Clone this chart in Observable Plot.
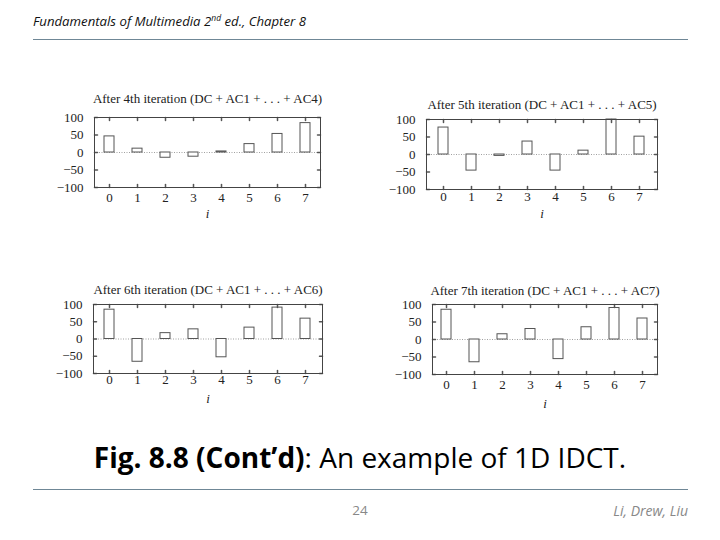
<!DOCTYPE html>
<html>
<head>
<meta charset="utf-8">
<script src="https://cdn.jsdelivr.net/npm/d3@7"></script>
<script src="https://cdn.jsdelivr.net/npm/@observablehq/plot@0.6"></script>
<style>
  html, body { margin: 0; padding: 0; background: #fff; }
  #slide { position: relative; width: 720px; height: 540px; overflow: hidden; background: #fff; }
  .abs { position: absolute; }
  .hdr { left: 33px; top: 12px; font-family: "Open Sans", sans-serif; font-style: italic; font-size: 13.2px; color: #111; white-space: nowrap; }
  .rule { left: 33px; width: 655px; height: 0; border-top: 1.3px solid #6f8796; }
  .cap { left: 0; width: 720px; top: 438px; text-align: center; font-family: "Open Sans", sans-serif; font-size: 28px; color: #000; white-space: nowrap; }
  .pg { left: 340px; width: 40px; top: 501px; text-align: center; font-family: "Open Sans", sans-serif; font-size: 13.5px; color: #888; }
  .auth { right: 32px; top: 501px; font-family: "Open Sans", sans-serif; font-style: italic; font-size: 14px; color: #888; white-space: nowrap; }
</style>
</head>
<body>
<div id="slide">
  <div class="abs hdr">Fundamentals of Multimedia 2<sup style="font-size:8.5px">nd</sup> ed., Chapter 8</div>
  <div class="abs rule" style="top:39px"></div>
  <div class="abs cap"><b>Fig. 8.8 (Cont’d)</b>: An example of 1D IDCT.</div>
  <div class="abs rule" style="top:489px"></div>
  <div class="abs pg">24</div>
  <div class="abs auth">Li, Drew, Liu</div>
</div>
<script>
// ---- data ----
const indices = [0, 1, 2, 3, 4, 5, 6, 7];
const iter4 = [46, 11, -15, -12, 3, 24, 53, 84];
const iter5 = [77, -46, -4, 37, -46, 11, 100, 51];
const iter6 = [85, -66, 17, 28, -53, 33, 91, 59];
const iter7 = [85, -65, 15, 30, -56, 35, 90, 60];
const titles = [
  "After 4th iteration (DC + AC1 + . . . + AC4)",
  "After 5th iteration (DC + AC1 + . . . + AC5)",
  "After 6th iteration (DC + AC1 + . . . + AC6)",
  "After 7th iteration (DC + AC1 + . . . + AC7)"
];
const yTicks = [-100, -50, 0, 50, 100];
const xLabel = "i";

// ---- layout (frame boxes in slide pixels) ----
const panels = [
  {values: iter4, title: titles[0], l: 94,  r: 320, t: 117, b: 187, xPad: 5, iDy: 26, tOff: 19},
  {values: iter5, title: titles[1], l: 426, r: 657, t: 119, b: 189, xPad: 2, iDy: 24, tOff: 15},
  {values: iter6, title: titles[2], l: 93,  r: 322, t: 304, b: 373, xPad: 1, iDy: 25, tOff: 15},
  {values: iter7, title: titles[3], l: 432, r: 657, t: 304, b: 374, xPad: 5, iDy: 29, tOff: 14}
];

const mL = 60, mR = 20, mT = 30, mB = 40;
const fs = 13;
const tickShape = {draw(context, l) { context.moveTo(0, 0); context.lineTo(0, -l); }};
const slide = document.getElementById("slide");

for (const p of panels) {
  const data = indices.map((i, k) => ({i, v: p.values[k]}));
  const w = mL + (p.r - p.l) + mR;
  const h = mT + (p.b - p.t) + mB;
  const chart = Plot.plot({
    width: w,
    height: h,
    marginLeft: mL, marginRight: mR, marginTop: mT, marginBottom: mB,
    style: {fontFamily: "'Liberation Serif', serif", fontSize: fs + "px", color: "#222", background: "transparent", overflow: "visible"},
    x: {type: "band", domain: indices, paddingInner: 0.64, paddingOuter: 0.32, label: null},
    y: {domain: [-100, 100], label: null},
    marks: [
      Plot.ruleY([0], {stroke: "#888", strokeDasharray: "1,1.5", strokeWidth: 0.8}),
      Plot.barY(data, {x: "i", y: "v", fill: "white", stroke: "#555", strokeWidth: 1}),
      Plot.axisY(yTicks, {anchor: "left", tickSize: 0, tickPadding: 11, tickFormat: d => d < 0 ? "\u2212" + Math.abs(d) : String(d), fontSize: fs, label: null}),
      Plot.axisX(indices, {anchor: "bottom", tickSize: 0, tickPadding: p.xPad, fontSize: fs, label: null}),
      // inward tick marks on all four sides (gnuplot style)
      Plot.vector(yTicks, {y: d => d, frameAnchor: "left", rotate: 90, length: 3, anchor: "start", shape: tickShape, stroke: "#555"}),
      Plot.vector(yTicks, {y: d => d, frameAnchor: "right", rotate: -90, length: 3, anchor: "start", shape: tickShape, stroke: "#555"}),
      Plot.vector(indices, {x: d => d, frameAnchor: "bottom", rotate: 0, length: 3, anchor: "start", shape: tickShape, stroke: "#555"}),
      Plot.vector(indices, {x: d => d, frameAnchor: "top", rotate: 180, length: 3, anchor: "start", shape: tickShape, stroke: "#555"}),
      Plot.frame({stroke: "#444", strokeWidth: 1}),
      Plot.text([p.title], {text: d => d, frameAnchor: "top", lineAnchor: "middle", dy: -p.tOff, fontSize: fs, fill: "#222"}),
      Plot.text([xLabel], {text: d => d, frameAnchor: "bottom", lineAnchor: "middle", dy: p.iDy, fontSize: fs, fontStyle: "italic", fill: "#222"})
    ]
  });
  chart.style.position = "absolute";
  chart.style.left = (p.l - mL) + "px";
  chart.style.top = (p.t - mT) + "px";
  slide.appendChild(chart);
}
</script>
</body>
</html>
